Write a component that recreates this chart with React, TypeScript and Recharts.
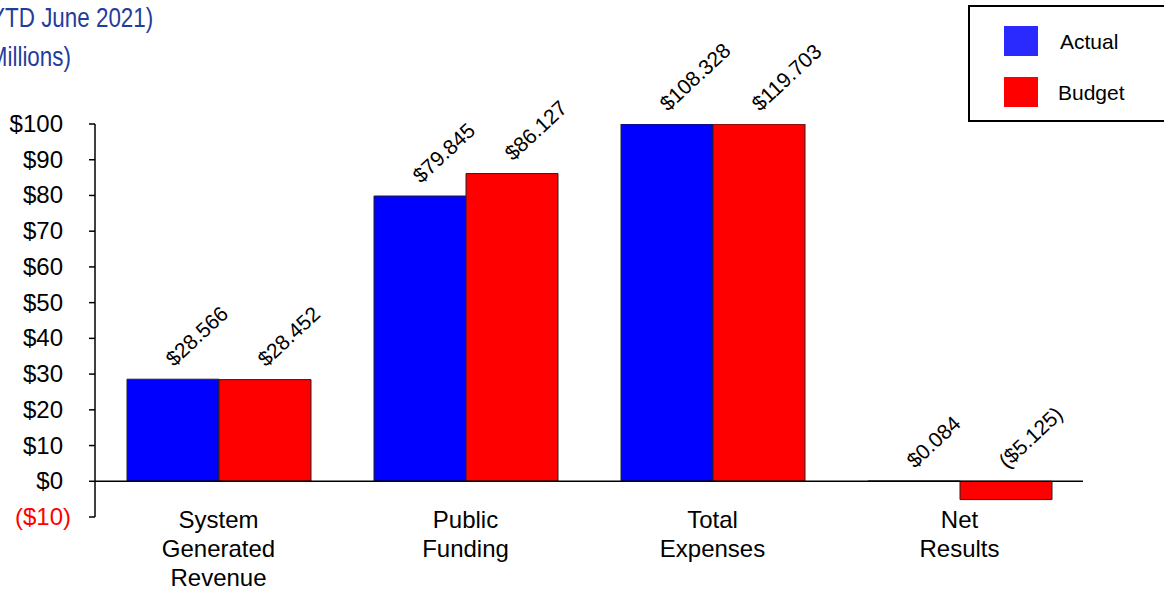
import { BarChart, Bar, XAxis, YAxis, ReferenceLine, LabelList } from "recharts";

const categories = ["System\nGenerated\nRevenue", "Public\nFunding", "Total\nExpenses", "Net\nResults"];
const actual = [28.566, 79.845, 108.328, 0.084];
const budget = [28.452, 86.127, 119.703, -5.125];
const yTicks = [-10, 0, 10, 20, 30, 40, 50, 60, 70, 80, 90, 100];
const yMin = -10;
const yMax = 100;

// bars above the axis max are drawn cut at $100, labels keep the real value
const data = categories.map((name, i) => ({
  name,
  actual: Math.min(actual[i], yMax),
  budget: Math.min(budget[i], yMax),
  actualLabel: actual[i],
  budgetLabel: budget[i],
}));

const FONT = "'Liberation Sans', Arial, sans-serif";
const BLUE = "#0000ff";
const RED = "#ff0000";
const TITLE_BLUE = "#1f3d9c";

const money = (v: number) => (v < 0 ? `($${Math.abs(v).toFixed(3)})` : `$${v.toFixed(3)}`);
const axisMoney = (v: number) => (v < 0 ? `($${Math.abs(v)})` : `$${v}`);

const ValueLabel = (props: any) => {
  const { x, y, width, height, value } = props;
  const top = Math.min(y, y + height);
  const lx = x + width / 2 + 1;
  const ly = top - 12;
  return (
    <text x={lx} y={ly} transform={`rotate(-43, ${lx}, ${ly})`} fontSize={21} fontFamily={FONT} fill="#000">
      {money(Number(value))}
    </text>
  );
};

// positive ticks keep room for the closing paren, like $#,##0_);($#,##0)
const YTick = ({ x, y, payload }: any) => {
  const neg = payload.value < 0;
  return (
    <text x={neg ? x + 8 : x} y={y} dy={8} textAnchor="end" fontSize={24} fontFamily={FONT} fill={neg ? RED : "#000"}>
      {axisMoney(payload.value)}
    </text>
  );
};

const XTick = ({ x, y, payload }: any) => {
  const lines = String(payload.value).split("\n");
  return (
    <text x={x} y={y} textAnchor="middle" fontSize={24} fontFamily={FONT} fill="#000">
      {lines.map((l, i) => (
        <tspan key={i} x={x} dy={i === 0 ? 11 : 29}>
          {l}
        </tspan>
      ))}
    </text>
  );
};

const titleStyle = (right: number, top: number): any => ({
  position: "absolute",
  right: 1164 - right,
  top,
  whiteSpace: "nowrap",
  fontFamily: FONT,
  fontSize: 28,
  lineHeight: "36px",
  color: TITLE_BLUE,
  transform: "scaleX(0.8)",
  transformOrigin: "right center",
});

export default function App() {
  return (
    <div style={{ position: "absolute", left: 0, top: 0, width: 1164, height: 591, background: "#fff", overflow: "hidden" }}>
      {/* title, cut off at the left edge like the slide */}
      <div style={titleStyle(153, 0)}>(YTD June 2021)</div>
      <div style={titleStyle(71, 39)}>($ in Millions)</div>

      <BarChart
        width={1164}
        height={591}
        data={data}
        margin={{ top: 124, right: 81, left: 15, bottom: 4 }}
        barCategoryGap={32}
        barGap={0}
      >
        <XAxis
          dataKey="name"
          axisLine={false}
          tickLine={false}
          tickSize={0}
          tickMargin={0}
          height={70}
          interval={0}
          tick={<XTick />}
        />
        <YAxis
          domain={[yMin, yMax]}
          ticks={yTicks}
          allowDataOverflow
          width={80}
          tick={<YTick />}
          tickSize={6}
          tickMargin={26}
          axisLine={{ stroke: "#000", strokeWidth: 1.5 }}
          tickLine={{ stroke: "#000", strokeWidth: 1.5 }}
        />
        <Bar dataKey="actual" fill={BLUE} stroke="#222" strokeWidth={1} isAnimationActive={false}>
          <LabelList dataKey="actualLabel" content={<ValueLabel />} />
        </Bar>
        <Bar dataKey="budget" fill={RED} stroke="#222" strokeWidth={1} isAnimationActive={false}>
          <LabelList dataKey="budgetLabel" content={<ValueLabel />} />
        </Bar>
        <ReferenceLine y={0} stroke="#000" strokeWidth={1.5} />
      </BarChart>

      {/* legend box, runs off the right edge */}
      <div
        style={{
          position: "absolute",
          left: 968,
          top: 5,
          width: 220,
          height: 113,
          border: "2px solid #000",
          background: "#fff",
          fontFamily: FONT,
          fontSize: 21,
        }}
      >
        {[
          { name: "Actual", color: "#2a2aff", top: 19, textLeft: 90 },
          { name: "Budget", color: RED, top: 70, textLeft: 88 },
        ].map((it) => (
          <div key={it.name}>
            <div style={{ position: "absolute", left: 34, top: it.top, width: 34, height: 30, background: it.color }} />
            <div style={{ position: "absolute", left: it.textLeft, top: it.top + 3, lineHeight: "26px" }}>{it.name}</div>
          </div>
        ))}
      </div>
    </div>
  );
}
